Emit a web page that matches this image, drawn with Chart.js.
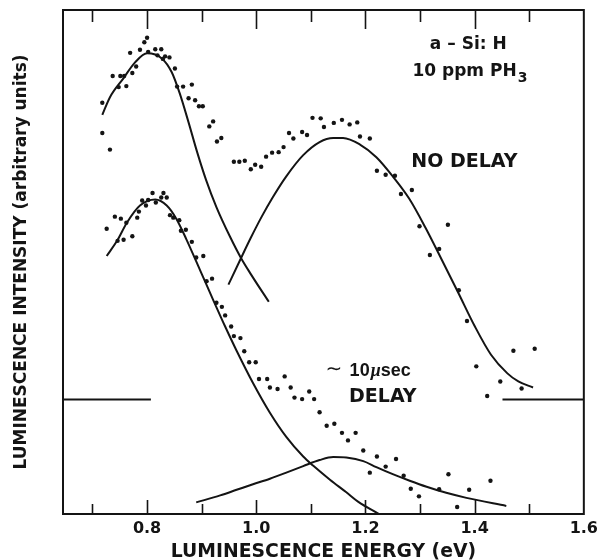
<!DOCTYPE html>
<html>
<head>
<meta charset="utf-8">
<script src="https://cdn.jsdelivr.net/npm/chart.js@4/dist/chart.umd.min.js"></script>
<style>
html,body{margin:0;padding:0;background:#fff;}
#wrap{width:603px;height:560px;}
</style>
</head>
<body>
<div id="wrap"><canvas id="c" width="603" height="560"></canvas></div>
<script>
// ---- data (energy in eV, intensity in arbitrary units 0..100) ----
const noDelayEnergy = [0.718,0.718,0.732,0.737,0.748,0.751,0.758,0.762,0.769,0.773,0.780,0.787,0.795,0.800,0.802,0.815,0.819,0.826,0.829,0.833,0.841,0.851,0.855,0.866,0.876,0.882,0.888,0.895,0.902,0.914,0.921,0.928,0.936,0.959,0.969,0.979,0.990,0.998,1.009,1.018,1.029,1.041,1.050,1.060,1.068,1.084,1.093,1.103,1.118,1.124,1.142,1.157,1.171,1.185,1.190,1.208,1.221,1.237,1.254,1.265,1.285,1.299,1.318,1.335,1.351,1.371,1.386,1.403,1.423,1.447,1.471,1.486,1.510];
const noDelayIntensity = [81.6,75.6,72.3,86.9,84.7,86.9,86.9,84.9,91.5,87.5,88.8,92.1,93.6,94.5,91.7,92.2,91.0,92.2,90.3,90.8,90.6,88.4,84.8,84.8,82.5,85.2,82.1,80.9,80.9,76.9,77.9,73.9,74.6,69.9,69.9,70.1,68.4,69.3,68.9,70.9,71.7,71.8,72.8,75.6,74.5,75.8,75.2,78.6,78.5,76.8,77.6,78.2,77.3,77.7,74.9,74.5,68.1,67.3,67.1,63.5,64.3,57.1,51.4,52.6,57.4,44.4,38.3,29.3,23.4,26.3,32.4,24.9,32.8];

const delayEnergy = [0.726,0.741,0.746,0.752,0.757,0.762,0.773,0.782,0.785,0.791,0.798,0.802,0.810,0.816,0.826,0.830,0.836,0.842,0.848,0.859,0.862,0.871,0.882,0.890,0.903,0.909,0.919,0.927,0.937,0.943,0.954,0.959,0.971,0.978,0.987,0.999,1.005,1.020,1.025,1.039,1.052,1.063,1.070,1.084,1.097,1.106,1.116,1.129,1.143,1.157,1.168,1.182,1.196,1.208,1.221,1.237,1.256,1.270,1.283,1.298,1.335,1.352,1.368,1.390,1.429];
const delayIntensity = [56.6,59.0,54.2,58.6,54.4,57.8,55.1,58.8,60.0,62.2,61.2,62.3,63.7,61.8,62.8,63.7,62.8,59.3,58.8,58.3,56.2,56.4,54.0,50.9,51.2,46.2,46.7,41.9,41.1,39.4,37.2,35.3,34.9,32.3,30.1,30.1,26.8,26.8,25.1,24.8,27.3,25.1,23.1,22.8,24.3,22.8,20.2,17.5,17.9,16.1,14.6,16.1,12.6,8.2,11.4,9.4,10.9,7.6,5.0,3.5,4.9,7.9,1.4,4.8,6.6];

// fitted component curves
const noDelayFitLowEnergy = [0.718,0.732,0.757,0.778,0.800,0.827,0.845,0.860,0.876,0.892,0.908,0.927,0.952,0.972,0.990,1.023];
const noDelayFitLowIntensity = [79.2,82.7,86.5,89.6,91.4,90.4,87.7,83.4,77.7,71.7,66.3,60.9,55.0,50.8,47.6,42.1];
const noDelayFitHighEnergy = [0.949,0.970,0.990,1.010,1.030,1.055,1.086,1.116,1.141,1.159,1.190,1.220,1.250,1.280,1.310,1.340,1.370,1.400,1.430,1.460,1.480,1.507];
const noDelayFitHighIntensity = [45.5,50.3,54.8,59.0,62.8,67.0,71.2,73.8,74.6,74.6,73.3,70.8,67.0,62.6,56.8,50.4,43.9,37.3,31.6,27.9,26.3,25.1];
const delayFitLowEnergy = [0.726,0.745,0.763,0.787,0.815,0.836,0.854,0.872,0.897,0.921,0.943,0.964,0.994,1.025,1.055,1.086,1.104,1.135,1.165,1.187,1.225];
const delayFitLowIntensity = [51.2,54.2,57.8,61.2,62.4,61.2,58.5,54.5,48.4,42.5,37.2,32.4,26.0,20.1,15.3,11.4,9.6,6.8,4.3,2.4,0.0];
const delayFitHighEnergy = [0.890,0.934,0.964,0.994,1.025,1.055,1.086,1.116,1.141,1.165,1.196,1.220,1.250,1.281,1.312,1.348,1.385,1.458];
const delayFitHighIntensity = [2.3,3.7,4.8,5.9,7.0,8.2,9.5,10.7,11.3,11.2,10.5,9.3,7.9,6.6,5.4,4.2,3.2,1.6];

// zero level of the "no delay" spectrum (short marks at both sides)
const noDelayZeroLevel = 22.7;
const zeroMarkLeftEnergy = [0.646, 0.807];
const zeroMarkRightEnergy = [1.451, 1.6];

// axis
const xMin = 0.646, xMax = 1.6;
const xTickValues = [0.8, 1.0, 1.2, 1.4, 1.6];
const xMinorTickValues = [0.7, 0.9, 1.1, 1.3, 1.5];
const xTitle = 'LUMINESCENCE ENERGY (eV)';
const yTitle = 'LUMINESCENCE INTENSITY (arbitrary units)';

// ---- build ----
const pts = (xs, ys) => xs.map((x, i) => ({x, y: ys[i]}));
const INK = '#141414';
const SANS = "'DejaVu Sans', sans-serif";

function pointSet(label, xs, ys) {
  return {label, data: pts(xs, ys), showLine: false, pointRadius: 2.2, pointHoverRadius: 2.2,
          pointBackgroundColor: INK, pointBorderWidth: 0, borderColor: INK};
}
function curveSet(label, xs, ys) {
  return {label, data: pts(xs, ys), showLine: true, pointRadius: 0, borderColor: INK,
          borderWidth: 2, fill: false, cubicInterpolationMode: 'monotone'};
}

const framePlugin = {
  id: 'frame',
  afterDatasetsDraw(chart) {
    const ctx = chart.ctx, xs = chart.scales.x;
    const {left, right, top, bottom} = chart.chartArea;
    ctx.save();
    ctx.strokeStyle = INK;
    ctx.lineWidth = 2;
    ctx.strokeRect(left, top, right - left, bottom - top);
    ctx.lineWidth = 1.6;
    const mark = (v, lt, lb) => {
      const px = Math.round(xs.getPixelForValue(v)) + 0.5;
      if (px > right - 2) return;
      ctx.beginPath();
      ctx.moveTo(px, top); ctx.lineTo(px, top + lt);
      ctx.moveTo(px, bottom); ctx.lineTo(px, bottom - lb);
      ctx.stroke();
    };
    xTickValues.forEach(v => mark(v, 19, 14));
    xMinorTickValues.forEach(v => mark(v, 12, 10));
    ctx.restore();
  },
  afterDraw(chart) {
    const ctx = chart.ctx, xs = chart.scales.x, ys = chart.scales.y;
    const X = v => xs.getPixelForValue(v), Y = v => ys.getPixelForValue(v);
    ctx.save();
    ctx.fillStyle = INK;
    ctx.textBaseline = 'alphabetic';
    ctx.textAlign = 'left';
    const put = (txt, x, y, font) => { ctx.font = font; ctx.fillText(txt, x, y); return ctx.measureText(txt).width; };
    // sample label
    put('a – Si: H', X(1.318), Y(92.2), "bold 17px " + SANS);
    let w = put('10 ppm PH', X(1.286), Y(86.9), "bold 17px " + SANS);
    put('3', X(1.286) + w + 1, Y(86.9) + 5.5, "bold 14px " + SANS);
    put('NO DELAY', X(1.284), Y(68.9), "bold 19px " + SANS);
    // delayed label
    ctx.textAlign = 'center';
    ctx.textBaseline = 'middle';
    put('∼', X(1.142), Y(28.7), "20px " + SANS);
    ctx.textAlign = 'left';
    ctx.textBaseline = 'alphabetic';
    let x0 = X(1.171), y0 = Y(27.3);
    x0 += put('10', x0, y0, "bold 18px 'Liberation Sans', sans-serif");
    x0 += put('μ', x0 + 1, y0, "italic bold 18px 'Liberation Serif', serif") + 1;
    put('sec', x0, y0, "bold 18px 'Liberation Sans', sans-serif");
    put('DELAY', X(1.170), Y(22.2), "bold 19px " + SANS);
    ctx.restore();
  }
};

new Chart(document.getElementById('c'), {
  type: 'scatter',
  data: {
    datasets: [
      pointSet('No delay (data)', noDelayEnergy, noDelayIntensity),
      pointSet('~10 µsec delay (data)', delayEnergy, delayIntensity),
      curveSet('No delay fit, low band', noDelayFitLowEnergy, noDelayFitLowIntensity),
      curveSet('No delay fit, high band', noDelayFitHighEnergy, noDelayFitHighIntensity),
      curveSet('Delay fit, low band', delayFitLowEnergy, delayFitLowIntensity),
      curveSet('Delay fit, high band', delayFitHighEnergy, delayFitHighIntensity),
      curveSet('No delay zero (left)', zeroMarkLeftEnergy, zeroMarkLeftEnergy.map(() => noDelayZeroLevel)),
      curveSet('No delay zero (right)', zeroMarkRightEnergy, zeroMarkRightEnergy.map(() => noDelayZeroLevel))
    ]
  },
  options: {
    responsive: false,
    animation: false,
    devicePixelRatio: 1,
    layout: {padding: {left: 0, right: 0, top: 10, bottom: 0}},
    plugins: {legend: {display: false}, tooltip: {enabled: false}},
    scales: {
      x: {
        type: 'linear', min: xMin, max: xMax,
        afterBuildTicks: s => { s.ticks = xTickValues.map(v => ({value: v})); },
        ticks: {
          font: {family: SANS, size: 16, weight: 'bold'}, color: INK, padding: 5,
          maxRotation: 0, autoSkip: false, callback: v => Number(v).toFixed(1)
        },
        grid: {display: false, drawTicks: false},
        border: {display: false},
        title: {display: true, text: xTitle, color: INK,
                font: {family: SANS, size: 18.8, weight: 'bold', lineHeight: 1},
                padding: {top: 0, bottom: -2}}
      },
      y: {
        min: 0, max: 100,
        ticks: {display: false},
        grid: {display: false, drawTicks: false},
        border: {display: false},
        title: {display: true, text: yTitle, color: INK,
                font: {family: SANS, size: 17, weight: 'bold', lineHeight: 1.2},
                padding: {top: 11.8, bottom: 30.8}}
      }
    }
  },
  plugins: [framePlugin]
});
</script>
</body>
</html>
